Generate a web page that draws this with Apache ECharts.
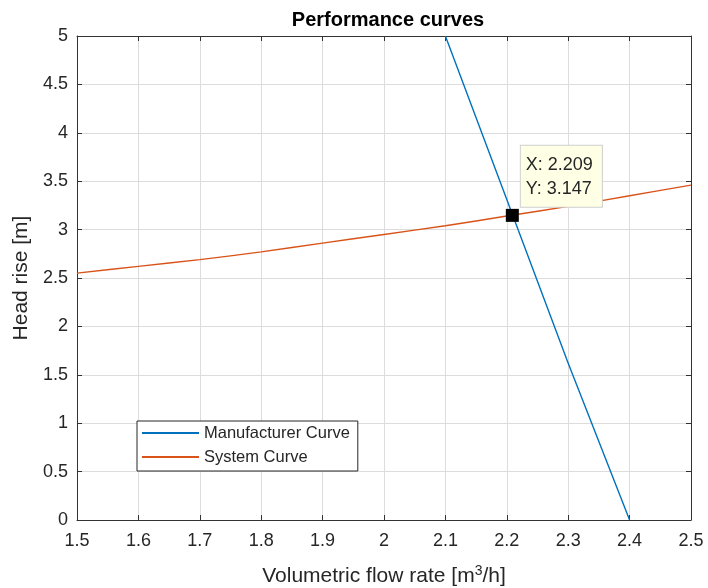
<!DOCTYPE html>
<html>
<head>
<meta charset="utf-8">
<style>html,body{margin:0;padding:0;background:#fff;}#c{width:708px;height:588px;}</style>
<script src="https://cdn.jsdelivr.net/npm/echarts@6/dist/echarts.min.js"></script>
</head>
<body>
<div id="c"></div>
<script>
const titleText = 'Performance curves';
const xTicks = [1.5, 1.6, 1.7, 1.8, 1.9, 2.0, 2.1, 2.2, 2.3, 2.4, 2.5];
const yTicks = [0, 0.5, 1, 1.5, 2, 2.5, 3, 3.5, 4, 4.5, 5];
const manufacturerQ = [2.1, 2.2, 2.3, 2.4];
const manufacturerH = [5.0, 3.31, 1.62, 0.0];
const systemQ = [1.5, 1.6, 1.7, 1.8, 1.9, 2.0, 2.1, 2.2, 2.3, 2.4, 2.5];
const systemH = [2.55, 2.62, 2.69, 2.77, 2.86, 2.95, 3.04, 3.14, 3.24, 3.35, 3.46];
const tipPoint = [2.209, 3.147];
const seriesNames = ['Manufacturer Curve', 'System Curve'];

const font = 'Liberation Sans, Arial, Helvetica, sans-serif';
const axisColor = '#333333';
const textColor = '#262626';
const chart = echarts.init(document.getElementById('c'), null, {renderer: 'canvas'});

function fmt(v) { return String(Math.round(v * 10) / 10); }

const baseAxis = {
  axisLine: {show: true, onZero: false, lineStyle: {color: axisColor, width: 1}},
  axisTick: {show: true, inside: true, length: 5, lineStyle: {color: axisColor}},
  splitLine: {show: false},
  axisLabel: {show: false}
};

chart.setOption({
  animation: false,
  backgroundColor: '#ffffff',
  title: {
    text: titleText, left: 383, top: 5, textAlign: 'center',
    textStyle: {fontFamily: font, fontSize: 20, fontWeight: 'bold', color: '#000'}
  },
  legend: {
    show: true, orient: 'vertical', left: 137, top: 421,
    data: seriesNames,
    itemWidth: 57, itemHeight: 2, itemGap: 6,
    padding: [3, 8, 5, 5],
    borderColor: '#262626', borderWidth: 1, backgroundColor: '#fff',
    textStyle: {fontFamily: font, fontSize: 16.5, lineHeight: 18, color: textColor},
    icon: 'rect'
  },
  grid: {left: 77, right: 17, top: 36, bottom: 68, containLabel: false, outerBoundsMode: 'none'},
  xAxis: [
    Object.assign({}, baseAxis, {
      type: 'value', min: 1.5, max: 2.5, interval: 0.1, position: 'bottom',
      splitLine: {show: true, lineStyle: {color: '#dcdcdc', width: 1}},
      axisLabel: {show: true, margin: 12, fontFamily: font, fontSize: 18, color: textColor,
        formatter: v => fmt(v)},
      name: 'Volumetric flow rate [m{sup|3}/h]', nameLocation: 'middle', nameGap: 44,
      nameTextStyle: {fontFamily: font, fontSize: 21, color: textColor,
        rich: {sup: {fontFamily: font, fontSize: 14, color: textColor, verticalAlign: 'top', padding: [0, 0, 10, 0]}}}
    }),
    Object.assign({}, baseAxis, {type: 'value', min: 1.5, max: 2.5, interval: 0.1, position: 'top'})
  ],
  yAxis: [
    Object.assign({}, baseAxis, {
      type: 'value', min: 0, max: 5, interval: 0.5, position: 'left',
      splitLine: {show: true, lineStyle: {color: '#dcdcdc', width: 1}},
      axisLabel: {show: true, margin: 9, fontFamily: font, fontSize: 18, color: textColor,
        formatter: v => fmt(v)},
      name: 'Head rise [m]', nameLocation: 'middle', nameGap: 41, nameRotate: 90,
      nameTextStyle: {fontFamily: font, fontSize: 21, color: textColor}
    }),
    Object.assign({}, baseAxis, {type: 'value', min: 0, max: 5, interval: 0.5, position: 'right'})
  ],
  series: [
    {
      name: seriesNames[0], type: 'line', showSymbol: false, symbol: 'none',
      data: manufacturerQ.map((q, i) => [q, manufacturerH[i]]),
      lineStyle: {color: '#0072BD', width: 1.4}, itemStyle: {color: '#0072BD'}, z: 3
    },
    {
      name: seriesNames[1], type: 'line', showSymbol: false, symbol: 'none', smooth: 0.3,
      data: systemQ.map((q, i) => [q, systemH[i]]),
      lineStyle: {color: '#D95319', width: 1.4}, itemStyle: {color: '#D95319'}, z: 3
    },
    {
      name: 'tip', type: 'scatter', symbol: 'rect', symbolSize: 13, z: 10,
      data: [tipPoint],
      itemStyle: {color: '#000', opacity: 1},
      label: {
        show: true, position: [15, -63],
        formatter: p => 'X: ' + p.value[0].toFixed(3) + '\nY: ' + p.value[1].toFixed(3),
        fontFamily: font, fontSize: 18, color: textColor, lineHeight: 24,
        backgroundColor: '#ffffe6', borderColor: '#cfcfcf', borderWidth: 1,
        padding: [7, 9, 6, 5]
      }
    }
  ]
});
</script>
</body>
</html>
